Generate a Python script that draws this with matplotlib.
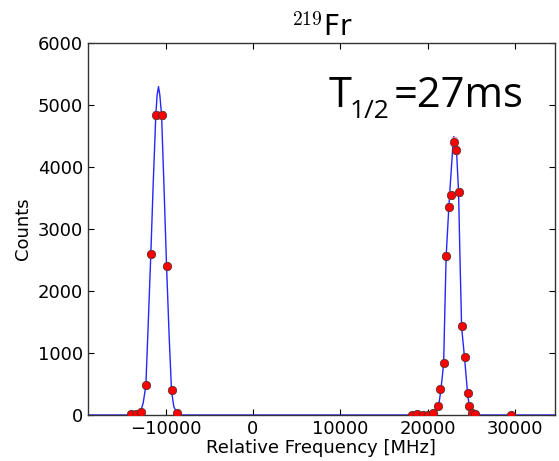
import matplotlib
matplotlib.use("Agg")
import matplotlib.pyplot as plt

# measured data points
freq_left = [-14000, -13430, -12820, -12250, -11680, -11110, -10450, -9880, -9310, -8670]
counts_left = [16, 16, 55, 480, 2600, 4840, 4840, 2410, 400, 40]
err_left = [4, 4, 7, 22, 51, 70, 70, 49, 20, 6]

freq_right = [18170, 18810, 19430, 20070, 20640, 21240, 21470, 21840, 22100, 22440, 22700,
              23010, 23280, 23590, 23900, 24240, 24580, 24770, 25130, 25450, 29580]
counts_right = [0, 15, 0, 0, 37, 140, 420, 840, 2570, 3360, 3550,
                4410, 4280, 3600, 1430, 930, 360, 150, 40, 16, 0]
err_right = [0, 4, 0, 0, 6, 12, 20, 29, 51, 58, 60,
             66, 65, 60, 38, 30, 19, 12, 6, 4, 0]

# fitted curve
fit_x = [-19000, -13320, -12860, -12560, -12250, -11990, -11680, -11420, -11110, -10960,
         -10800, -10650, -10450, -10160, -9880, -9580, -9310, -9050, -8700, -8360,
         20070, 20640, 21260, 21530, 21840, 21980, 22130, 22440, 22560, 22790, 22940,
         23010, 23160, 23320, 23550, 23700, 23900, 24240, 24580, 24770, 25110, 25420,
         25800, 35000]
fit_y = [0, 0, 53, 189, 473, 1425, 2597, 3683, 4839, 5162,
         5296, 5162, 4839, 3629, 2403, 1263, 387, 134, 37, 0,
         0, 37, 134, 414, 822, 1694, 2565, 3360, 3629, 4113, 4436,
         4489, 4382, 4247, 3602, 2608, 1414, 914, 350, 145, 37, 5,
         0, 0]

title_text = r"$^{219}$Fr"
hl_main = "T"
hl_sub = "1/2"
hl_rest = "=27ms"
xlabel = "Relative Frequency [MHz]"
ylabel = "Counts"
xticks = [-10000, 0, 10000, 20000, 30000]
yticks = [0, 1000, 2000, 3000, 4000, 5000, 6000]

fig = plt.figure(figsize=(5.59, 4.61), dpi=100)
ax = fig.add_axes([0.157, 0.0998, 0.836, 0.8069])

ax.plot(fit_x, fit_y, color="#2626ff", lw=1.0, zorder=2)
for fx, cy, er in ((freq_left, counts_left, err_left), (freq_right, counts_right, err_right)):
    ax.errorbar(fx, cy, yerr=er, fmt="o", color="#ff9a9a", ecolor="#ff9a9a", elinewidth=1,
                capsize=2, markerfacecolor="red", markeredgecolor="#553333",
                markeredgewidth=0.6, markersize=6, zorder=3)

ax.set_xlim(-18900, 34600)
ax.set_ylim(0, 6000)
ax.set_xticks(xticks)
ax.set_yticks(yticks)
ax.tick_params(direction="in", length=4, width=0.8, labelsize=13, top=True, right=True,
               colors="black")
ax.set_xlabel(xlabel, fontsize=13, labelpad=1)
ax.set_ylabel(ylabel, fontsize=13, labelpad=4)
for s in ax.spines.values():
    s.set_color("#333333")
    s.set_linewidth(1.0)

ax.set_title(title_text, fontsize=20, pad=5, math_fontfamily="cm")

fig.text(0.5886, 0.7686, hl_main, fontsize=30, family="Open Sans", va="baseline", ha="left")
fig.text(0.6245, 0.7447, hl_sub, fontsize=19, family="Open Sans", va="baseline", ha="left")
fig.text(0.7040, 0.7686, hl_rest, fontsize=30, family="Open Sans", va="baseline", ha="left")

fig.savefig("out.png", dpi=100)
